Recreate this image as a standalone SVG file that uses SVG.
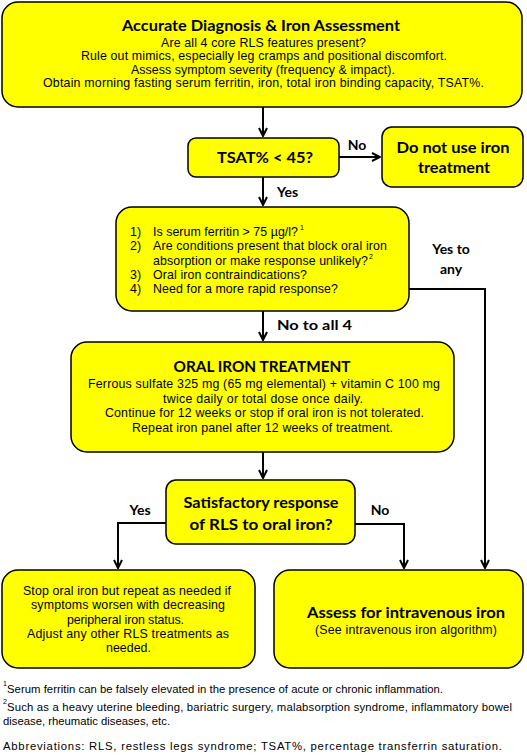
<svg xmlns="http://www.w3.org/2000/svg" width="527" height="755" viewBox="0 0 527 755">
<style>
.box{fill:#FFFF00;stroke:#000;stroke-width:1.5}
.b{font-family:Lato,"Open Sans","Liberation Sans",sans-serif;font-weight:700;fill:#000}
.r{font-family:"Liberation Sans",Arial,sans-serif;fill:#000;font-size:12.4px}
.f{font-family:"Liberation Sans",Arial,sans-serif;fill:#000;font-size:11.3px}
.s{font-family:"Liberation Sans",Arial,sans-serif;fill:#000;font-size:7px}
.c{text-anchor:middle}
.con{fill:none;stroke:#000;stroke-width:2}
</style>
<defs>
<marker id="ah" viewBox="0 0 10 10" refX="9" refY="5" markerWidth="10" markerHeight="10" markerUnits="userSpaceOnUse" orient="auto">
<path d="M1,1 L9,5 L1,9" fill="none" stroke="#000" stroke-width="2"/>
</marker>
</defs>
<rect width="527" height="755" fill="#fff"/>

<g id="connectors">
<path class="con" d="M263,107 V136" marker-end="url(#ah)"/>
<path class="con" d="M339,157 H380" marker-end="url(#ah)"/>
<path class="con" d="M263,177 V205" marker-end="url(#ah)"/>
<path class="con" d="M409,289 H485 V568" marker-end="url(#ah)"/>
<path class="con" d="M263,311 V340" marker-end="url(#ah)"/>
<path class="con" d="M263,452 V478" marker-end="url(#ah)"/>
<path class="con" d="M166,523 H118 V568" marker-end="url(#ah)"/>
<path class="con" d="M355,524 H404 V568" marker-end="url(#ah)"/>
<text class="b" x="357" y="150" font-size="14" text-anchor="middle">No</text>
<text class="b" x="277" y="197" font-size="14">Yes</text>
<text class="b c" x="451" y="254" font-size="14">Yes to</text>
<text class="b c" x="451" y="274" font-size="14">any</text>
<text class="b" x="277" y="330" font-size="14" textLength="75" lengthAdjust="spacingAndGlyphs">No to all 4</text>
<text class="b c" x="140" y="515" font-size="14">Yes</text>
<text class="b c" x="380" y="515" font-size="14">No</text>
</g>

<g id="assessment">
<rect class="box" x="2" y="2" width="520" height="105" rx="16"/>
<text class="b c" x="261" y="31" font-size="16" textLength="278" lengthAdjust="spacingAndGlyphs">Accurate Diagnosis &amp; Iron Assessment</text>
<text class="r c" x="263.5" y="47" textLength="205">Are all 4 core RLS features present?</text>
<text class="r c" x="264" y="60" textLength="366">Rule out mimics, especially leg cramps and positional discomfort.</text>
<text class="r c" x="263" y="74" textLength="264">Assess symptom severity (frequency &amp; impact).</text>
<text class="r c" x="263.5" y="87" textLength="441">Obtain morning fasting serum ferritin, iron, total iron binding capacity, TSAT%.</text>
</g>

<g id="tsat">
<rect class="box" x="188" y="138" width="151" height="39" rx="8"/>
<text class="b c" x="265" y="163" font-size="15" textLength="96" lengthAdjust="spacingAndGlyphs">TSAT% &lt; 45?</text>
</g>

<g id="no-iron">
<rect class="box" x="382" y="127" width="141" height="60" rx="10"/>
<text class="b c" x="453" y="153" font-size="15" textLength="113" lengthAdjust="spacingAndGlyphs">Do not use iron</text>
<text class="b c" x="454" y="173" font-size="15" textLength="72" lengthAdjust="spacingAndGlyphs">treatment</text>
</g>

<g id="questions">
<rect class="box" x="116" y="207" width="293" height="104" rx="16"/>
<text class="r" x="130" y="236">1)</text>
<text class="r" x="153" y="236" textLength="145">Is serum ferritin &gt; 75 µg/l?</text>
<text class="s" x="300" y="230">1</text>
<text class="r" x="130" y="250">2)</text>
<text class="r" x="153" y="250" textLength="234">Are conditions present that block oral iron</text>
<text class="r" x="153" y="265" textLength="215">absorption or make response unlikely?</text>
<text class="s" x="369" y="259">2</text>
<text class="r" x="130" y="279">3)</text>
<text class="r" x="153" y="279" textLength="154">Oral iron contraindications?</text>
<text class="r" x="130" y="293">4)</text>
<text class="r" x="153" y="293" textLength="185">Need for a more rapid response?</text>
</g>

<g id="oral">
<rect class="box" x="71" y="342" width="383" height="110" rx="16"/>
<text class="b c" x="262" y="372" font-size="16" textLength="177" lengthAdjust="spacingAndGlyphs">ORAL IRON TREATMENT</text>
<text class="r c" x="264" y="388" textLength="352">Ferrous sulfate 325 mg (65 mg elemental) + vitamin C 100 mg</text>
<text class="r c" x="263" y="403" textLength="200">twice daily or total dose once daily.</text>
<text class="r c" x="264.5" y="417" textLength="319">Continue for 12 weeks or stop if oral iron is not tolerated.</text>
<text class="r c" x="262.5" y="432" textLength="261">Repeat iron panel after 12 weeks of treatment.</text>
</g>

<g id="response">
<rect class="box" x="166" y="480" width="189" height="64" rx="10"/>
<text class="b c" x="261" y="508" font-size="15" textLength="155" lengthAdjust="spacingAndGlyphs">Satisfactory response</text>
<text class="b c" x="261" y="530" font-size="15" textLength="143" lengthAdjust="spacingAndGlyphs">of RLS to oral iron?</text>
</g>

<g id="stop">
<rect class="box" x="2" y="570" width="253" height="98" rx="16"/>
<text class="r c" x="127" y="595" textLength="208">Stop oral iron but repeat as needed if</text>
<text class="r c" x="128" y="609" textLength="194">symptoms worsen with decreasing</text>
<text class="r c" x="125.5" y="624" textLength="117">peripheral iron status.</text>
<text class="r c" x="128" y="638" textLength="202">Adjust any other RLS treatments as</text>
<text class="r c" x="128.5" y="652" textLength="45">needed.</text>
</g>

<g id="iv">
<rect class="box" x="274" y="570" width="249" height="98" rx="16"/>
<text class="b c" x="406" y="618" font-size="16" textLength="198" lengthAdjust="spacingAndGlyphs">Assess for intravenous iron</text>
<text class="r c" x="406" y="634" textLength="182">(See intravenous iron algorithm)</text>
</g>

<g id="footnotes">
<text class="s" x="3" y="686">1</text>
<text class="f" x="7" y="693" textLength="436">Serum ferritin can be falsely elevated in the presence of acute or chronic inflammation.</text>
<text class="s" x="3" y="704">2</text>
<text class="f" x="7" y="711" textLength="505">Such as a heavy uterine bleeding, bariatric surgery, malabsorption syndrome, inflammatory bowel</text>
<text class="f" x="3" y="725">disease, rheumatic diseases, etc.</text>
<text class="f" x="3" y="750" textLength="499">Abbreviations: RLS, restless legs syndrome; TSAT%, percentage transferrin saturation.</text>
</g>
</svg>
